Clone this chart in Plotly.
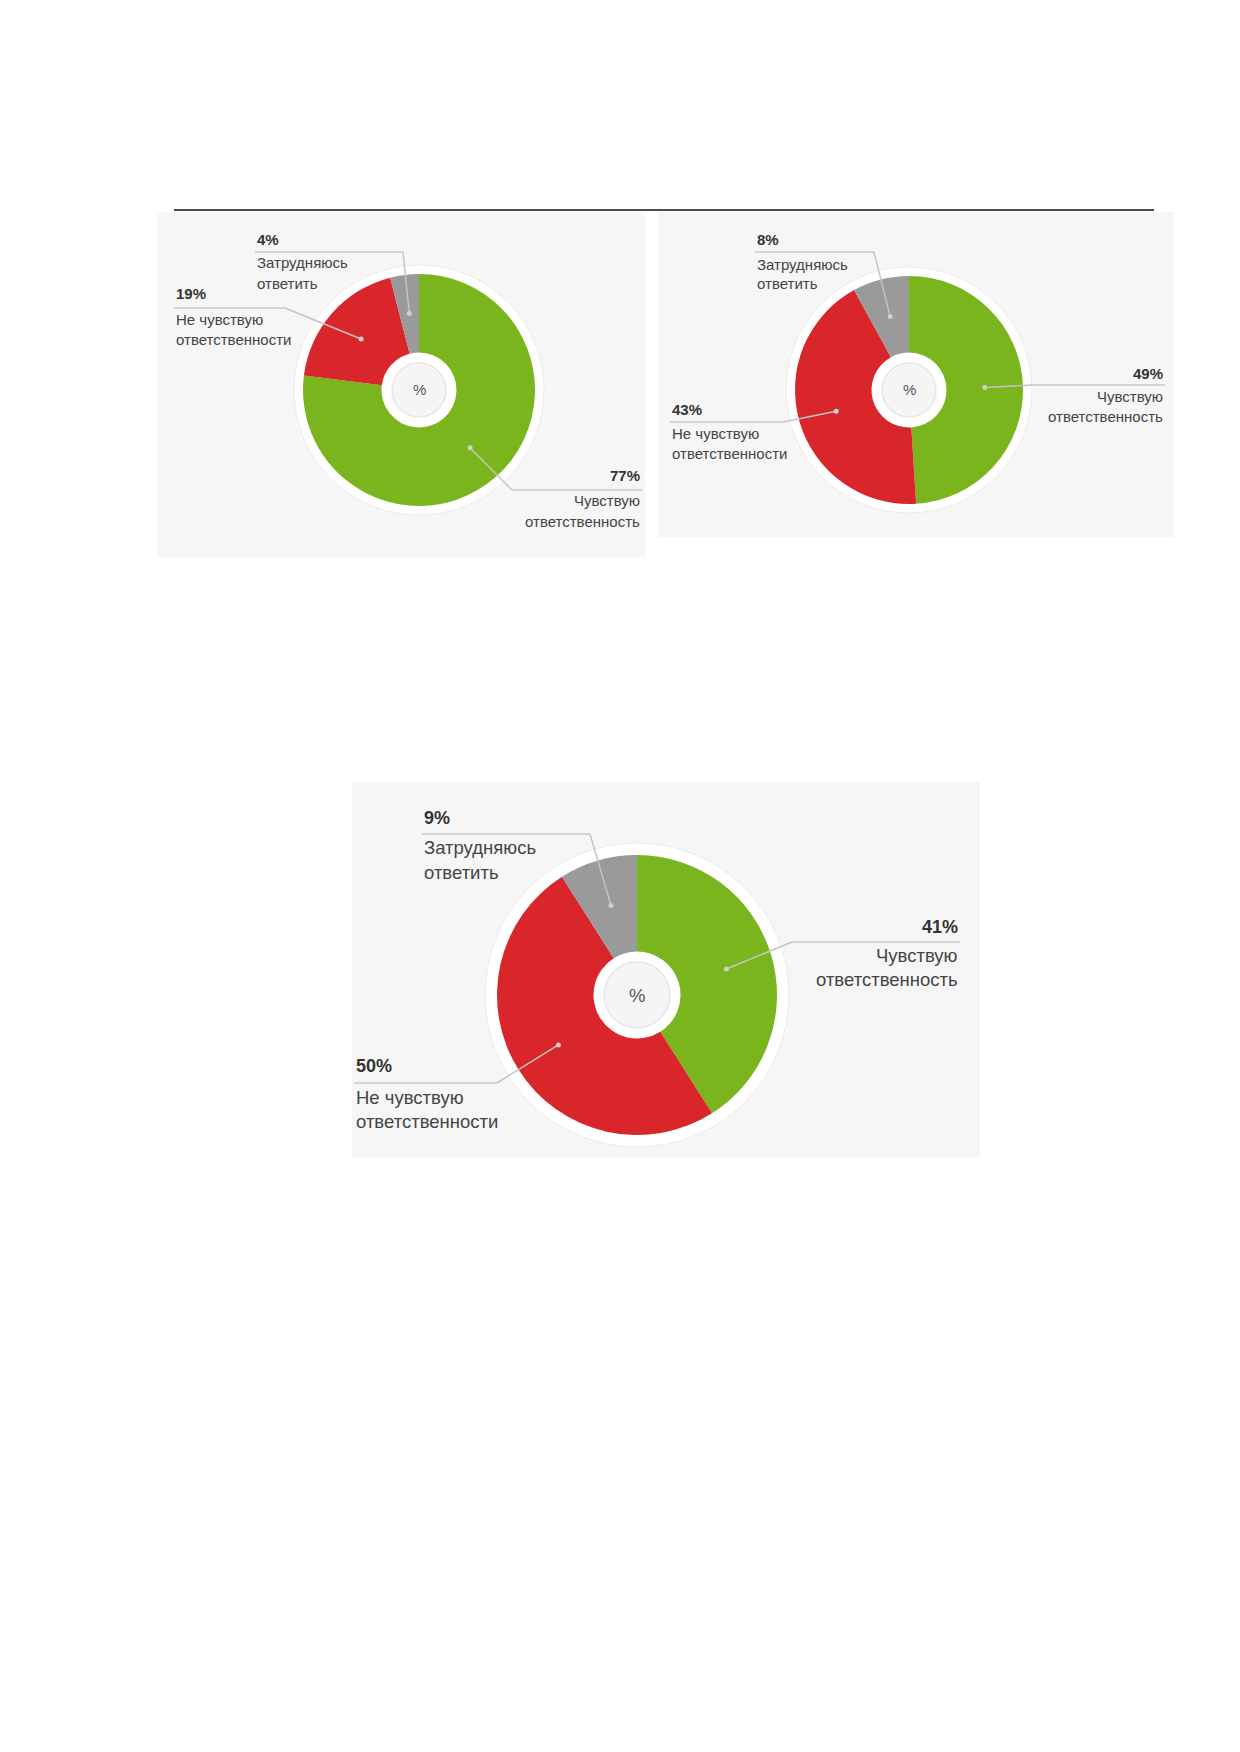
import math
import plotly.graph_objects as go

W, H = 1240, 1752
OFF = 8  # the page body margin shifts the figure by this many pixels

# data
categories = ["Чувствую ответственность", "Не чувствую ответственности", "Затрудняюсь ответить"]
label_lines = [["Чувствую", "ответственность"],
               ["Не чувствую", "ответственности"],
               ["Затрудняюсь", "ответить"]]
values_1 = [77, 19, 4]
values_2 = [49, 43, 8]
values_3 = [41, 50, 9]
colors = ["#7ab51d", "#d9262a", "#9a9a9a"]

FONT = "Liberation Sans, Arial, sans-serif"


def px(x):
    return (x - OFF) / W


def py(y):
    return 1 - (y - OFF) / H


# layout of each donut (pixel positions in the page)
charts = [
    dict(values=values_1, panel=(157, 212, 645, 557), c=(419, 390), r=116, ring=125, inner=27,
         fs=15, pfs=15, step=20,
         labels=[dict(side="right", x=642, y=475, ul=490, end=512, lines=501),
                 dict(side="left", x=174, y=294, ul=308, end=285, lines=319),
                 dict(side="left", x=255, y=239, ul=252, end=403, lines=263)]),
    dict(values=values_2, panel=(658, 212, 1174, 537), c=(909, 390), r=114, ring=123, inner=27,
         fs=15, pfs=15, step=20,
         labels=[dict(side="right", x=1165, y=373, ul=385, end=1032, lines=397),
                 dict(side="left", x=670, y=409, ul=422, end=783, lines=433),
                 dict(side="left", x=755, y=240, ul=252, end=874, lines=264)]),
    dict(values=values_3, panel=(352, 782, 980, 1157), c=(637, 995), r=140, ring=152, inner=33,
         fs=18.5, pfs=18, step=24,
         labels=[dict(side="right", x=960, y=927, ul=942, end=792, lines=955),
                 dict(side="left", x=354, y=1066, ul=1083, end=497, lines=1097),
                 dict(side="left", x=422, y=818, ul=834, end=590, lines=848)]),
]

fig = go.Figure()
shapes = []
annotations = []

# black rule above the two top charts
shapes.append(dict(type="line", xref="paper", yref="paper", x0=px(174), x1=px(1154),
                   y0=py(210), y1=py(210), line=dict(color="#111111", width=1.5)))

for ch in charts:
    cx, cy = ch["c"]
    r = ch["r"]
    x0, y0, x1, y1 = ch["panel"]
    shapes.append(dict(type="rect", xref="paper", yref="paper", layer="below",
                       x0=px(x0), x1=px(x1), y0=py(y1), y1=py(y0),
                       fillcolor="#f6f6f6", line=dict(width=0)))
    rg = ch["ring"]
    shapes.append(dict(type="circle", xref="paper", yref="paper", layer="below",
                       x0=px(cx - rg), x1=px(cx + rg), y0=py(cy + rg), y1=py(cy - rg),
                       fillcolor="#ffffff", line=dict(color="#ebebeb", width=1)))
    ri = ch["inner"]
    shapes.append(dict(type="circle", xref="paper", yref="paper", layer="below",
                       x0=px(cx - ri), x1=px(cx + ri), y0=py(cy + ri), y1=py(cy - ri),
                       fillcolor="#f5f5f5", line=dict(color="#e6e6e6", width=1.5)))

    fig.add_trace(go.Pie(
        labels=categories, values=ch["values"], sort=False, direction="clockwise",
        rotation=0, hole=(ri + 10.5) / r, textinfo="none", textposition="none",
        marker=dict(colors=colors, line=dict(width=0)), showlegend=False,
        domain=dict(x=[px(cx - r), px(cx + r)], y=[py(cy + r), py(cy - r)]),
    ))

    annotations.append(dict(x=px(cx), y=py(cy), xref="paper", yref="paper", text="%",
                            xanchor="center", yanchor="middle", showarrow=False,
                            font=dict(family=FONT, size=ch["fs"], color="#555555")))

    total = sum(ch["values"])
    cum = 0
    fs = ch["fs"]
    for i, v in enumerate(ch["values"]):
        th = 2 * math.pi * (cum + v / 2) / total
        cum += v
        dx = cx + 0.665 * r * math.sin(th)
        dy = cy - 0.665 * r * math.cos(th)
        lb = ch["labels"][i]
        # leader line from slice to the underline
        shapes.append(dict(type="line", xref="paper", yref="paper",
                           x0=px(dx), y0=py(dy), x1=px(lb["end"]), y1=py(lb["ul"]),
                           line=dict(color="#c4c4c4", width=1.5)))
        shapes.append(dict(type="line", xref="paper", yref="paper",
                           x0=px(lb["x"]), y0=py(lb["ul"]), x1=px(lb["end"]), y1=py(lb["ul"]),
                           line=dict(color="#c8c8c8", width=1.5)))
        shapes.append(dict(type="circle", xref="paper", yref="paper",
                           x0=px(dx - 2.5), x1=px(dx + 2.5), y0=py(dy + 2.5), y1=py(dy - 2.5),
                           fillcolor="#cfcfcf", line=dict(width=0)))
        anchor = "left" if lb["side"] == "left" else "right"
        annotations.append(dict(x=px(lb["x"]), y=py(lb["y"]), xref="paper", yref="paper",
                                xanchor=anchor, yanchor="middle", showarrow=False,
                                text="<b>%d%%</b>" % v,
                                font=dict(family=FONT, size=ch["pfs"], color="#333333")))
        for k, line in enumerate(label_lines[i]):
            annotations.append(dict(x=px(lb["x"]), y=py(lb["lines"] + k * ch["step"]),
                                    xref="paper", yref="paper", xanchor=anchor, yanchor="middle",
                                    showarrow=False, text=line,
                                    font=dict(family=FONT, size=fs, color="#444444")))

fig.update_layout(width=W, height=H, margin=dict(l=0, r=0, t=0, b=0),
                  paper_bgcolor="#ffffff", plot_bgcolor="#ffffff",
                  shapes=shapes, annotations=annotations)

fig.write_html("out.html")
